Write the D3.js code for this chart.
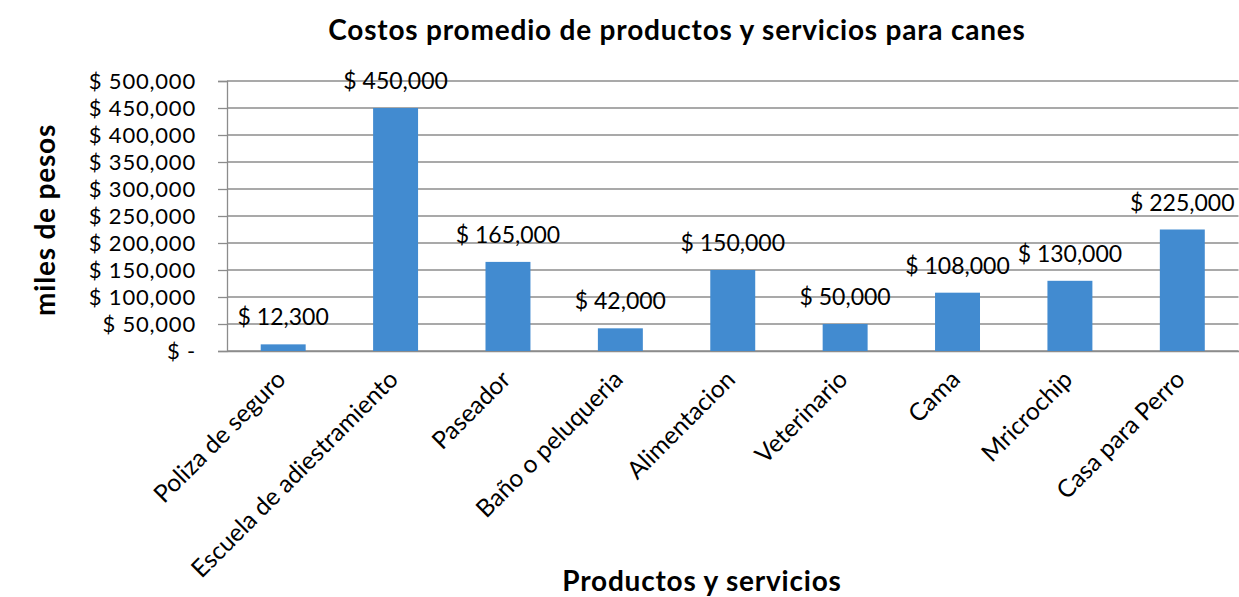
<!DOCTYPE html>
<head>
  <meta charset="utf-8">
  <script src="https://d3js.org/d3.v7.min.js"></script>
  <style>
    body { margin:0; background:#fff; }
    text { font-family: Lato, "Open Sans", sans-serif; fill:#000; }
  </style>
</head>
<body>
<script>
  // data
  var categories = ["Poliza de seguro", "Escuela de adiestramiento", "Paseador", "Baño o peluqueria",
                    "Alimentacion", "Veterinario", "Cama", "Mricrochip", "Casa para Perro"];
  var costs = [12300, 450000, 165000, 42000, 150000, 50000, 108000, 130000, 225000];
  var yTicks = [0, 50000, 100000, 150000, 200000, 250000, 300000, 350000, 400000, 450000, 500000];

  var W = 1239, H = 597;
  var margin = {top: 81, right: 0, bottom: 246, left: 227};
  var width = W - margin.left - margin.right - 0.5,
      height = H - margin.top - margin.bottom;

  var svg = d3.select("body").append("svg")
      .attr("width", W)
      .attr("height", H);

  var g = svg.append("g")
      .attr("transform", "translate(" + margin.left + "," + margin.top + ")");

  var x = d3.scaleBand()
      .domain(categories)
      .range([0, width])
      .paddingInner(0.6)
      .paddingOuter(0.3);

  var y = d3.scaleLinear()
      .domain([0, 500000])
      .range([height, 0]);

  var money = function(v) { return v === 0 ? "$ -" : "$ " + d3.format(",")(v); };

  // gridlines
  g.selectAll(".grid").data(yTicks).enter().append("line")
      .attr("x1", 0).attr("x2", width)
      .attr("y1", function(d) { return y(d); })
      .attr("y2", function(d) { return y(d); })
      .attr("stroke", "#8c8c8c")
      .attr("stroke-width", 1.3);

  // y axis
  var yAxis = g.append("g")
      .call(d3.axisLeft(y).tickValues(yTicks).tickSize(9).tickPadding(22).tickFormat(money));
  yAxis.select(".domain").attr("stroke", "#8c8c8c").attr("stroke-width", 1.3);
  yAxis.selectAll(".tick line").attr("stroke", "#8c8c8c").attr("stroke-width", 1.3);
  yAxis.selectAll(".tick text")
      .style("font-family", "Lato")
      .style("font-size", "22px")
      .style("letter-spacing", "0.8px")
      .attr("fill", "#000");

  // x axis
  var xAxis = g.append("g")
      .attr("transform", "translate(0," + height + ")")
      .call(d3.axisBottom(x).tickSize(0).tickPadding(0));
  xAxis.select(".domain").attr("stroke", "#8c8c8c").attr("stroke-width", 1.3);
  xAxis.selectAll(".tick text")
      .style("font-family", "Lato")
      .style("font-size", "24.5px")
      .attr("fill", "#000")
      .attr("text-anchor", "end")
      .attr("dy", null)
      .attr("y", 0)
      .attr("transform", "translate(4,30) rotate(-45)");

  // bars
  g.selectAll(".bar").data(costs).enter().append("rect")
      .attr("x", function(d, i) { return x(categories[i]); })
      .attr("width", x.bandwidth())
      .attr("y", function(d) { return y(d); })
      .attr("height", function(d) { return height - y(d); })
      .attr("fill", "#428bd0");

  // value labels
  g.selectAll(".lbl").data(costs).enter().append("text")
      .attr("x", function(d, i) { return x(categories[i]) + x.bandwidth() / 2; })
      .attr("y", function(d) { return y(d) - 19; })
      .attr("text-anchor", "middle")
      .style("font-size", "23px")
      .text(money);

  // titles
  svg.append("text")
      .attr("x", 677).attr("y", 40)
      .attr("text-anchor", "middle")
      .style("font-size", "28px").style("font-weight", "bold")
      .style("letter-spacing", "0.8px")
      .text("Costos promedio de productos y servicios para canes");

  svg.append("text")
      .attr("x", 702).attr("y", 591)
      .attr("text-anchor", "middle")
      .style("font-size", "28px").style("font-weight", "bold")
      .style("letter-spacing", "0.8px")
      .text("Productos y servicios");

  svg.append("text")
      .attr("transform", "translate(55,220) rotate(-90)")
      .attr("text-anchor", "middle")
      .style("font-size", "28px").style("font-weight", "bold")
      .style("letter-spacing", "0.8px")
      .text("miles de pesos");
</script>
</body>
